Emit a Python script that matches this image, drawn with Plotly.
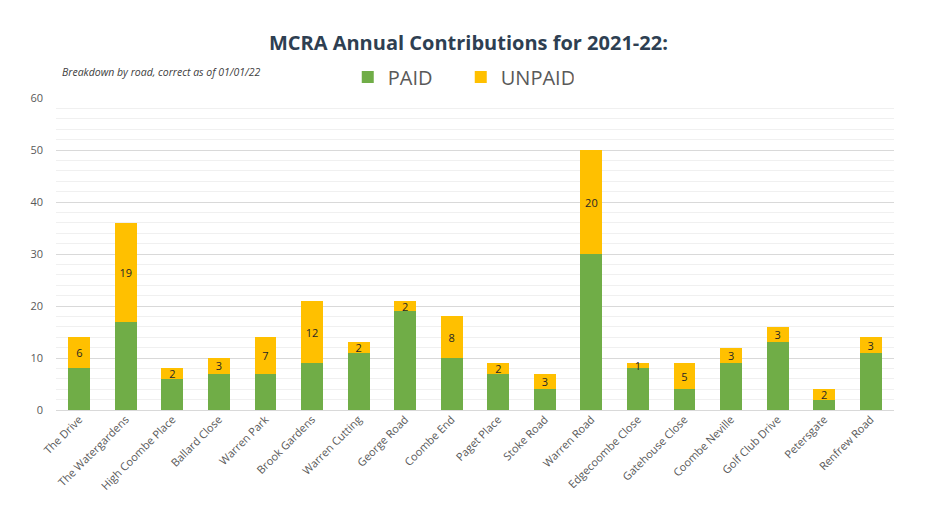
import plotly.graph_objects as go

# --- Data ---
roads = [
    "The Drive", "The Watergardens", "High Coombe Place", "Ballard Close",
    "Warren Park", "Brook Gardens", "Warren Cutting", "George Road",
    "Coombe End", "Paget Place", "Stoke Road", "Warren Road",
    "Edgecoombe Close", "Gatehouse Close", "Coombe Neville", "Golf Club Drive",
    "Petersgate", "Renfrew Road",
]
paid = [8, 17, 6, 7, 7, 9, 11, 19, 10, 7, 4, 30, 8, 4, 9, 13, 2, 11]
unpaid = [6, 19, 2, 3, 7, 12, 2, 2, 8, 2, 3, 20, 1, 5, 3, 3, 2, 3]

GREEN = "#70AD47"
YELLOW = "#FFC000"
FONT = "Open Sans"

fig = go.Figure()

fig.add_trace(go.Bar(
    x=roads, y=paid, name="PAID",
    marker=dict(color=GREEN, line=dict(width=0)),
))

fig.add_trace(go.Bar(
    x=roads, y=unpaid, name="UNPAID",
    marker=dict(color=YELLOW, line=dict(width=0)),
    text=unpaid, textposition="inside", insidetextanchor="middle",
    textangle=0, constraintext="none",
    textfont=dict(family=FONT, size=11, color="#262626"),
))

# --- Formatting ---
fig.update_layout(
    barmode="stack",
    bargap=0.53,
    width=933, height=525,
    margin=dict(l=56, r=39, t=98, b=115, autoexpand=False),
    paper_bgcolor="white",
    plot_bgcolor="white",
    font=dict(family=FONT, color="#595959"),
    title=dict(
        text="<b>MCRA Annual Contributions for 2021-22:</b>",
        x=0.502, xanchor="center", y=1 - 43 / 525, yanchor="middle",
        yref="container",
        font=dict(family=FONT, size=20, color="#2E3F52"),
    ),
    legend=dict(
        orientation="h", x=0.483, xanchor="center",
        yref="container", y=1 - 77 / 525, yanchor="middle",
        font=dict(family=FONT, size=20, color="#595959"),
        itemwidth=30, traceorder="normal",
        entrywidth=68, entrywidthmode="pixels",
        bgcolor="rgba(0,0,0,0)",
    ),
    showlegend=True,
    uniformtext=dict(minsize=8, mode="show"),
)

fig.add_annotation(
    text="<i>Breakdown by road, correct as of 01/01/22</i>",
    xref="paper", yref="paper", x=0.005, y=1.083,
    xanchor="left", yanchor="middle", showarrow=False,
    font=dict(family=FONT, size=10.5, color="#404040"),
)

fig.update_yaxes(
    range=[0, 60], dtick=10, automargin=False,
    showgrid=True, gridcolor="#D9D9D9", gridwidth=1,
    zeroline=True, zerolinecolor="#D9D9D9", zerolinewidth=1,
    minor=dict(dtick=2, showgrid=True, gridcolor="#F0F0F0", gridwidth=1),
    tickfont=dict(family=FONT, size=11, color="#595959"),
    ticks="", ticklabelstandoff=12,
    fixedrange=True,
)

fig.update_xaxes(
    tickangle=-45, automargin=False,
    tickfont=dict(family=FONT, size=11, color="#595959"),
    showline=False, ticks="",
)

# drop the browser's default body margin so the figure sits at the page corner
fig.write_html(
    "out.html",
    config=dict(displayModeBar=False),
    post_script="document.body.style.margin='0';",
)
